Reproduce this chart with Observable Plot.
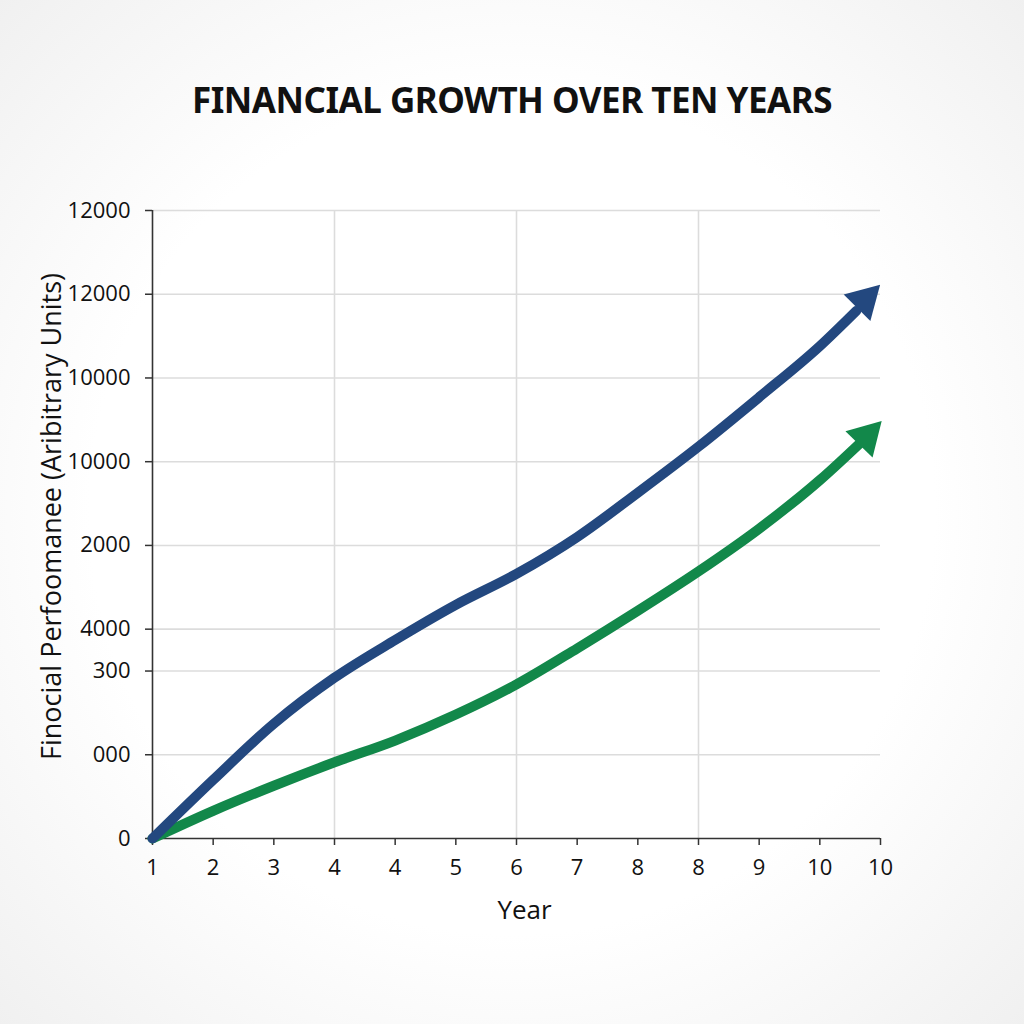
<!DOCTYPE html>
<html>
<head>
<meta charset="utf-8">
<script src="https://cdn.jsdelivr.net/npm/d3@7"></script>
<script src="https://cdn.jsdelivr.net/npm/@observablehq/plot@0.6"></script>
<style>
  html, body { margin: 0; padding: 0; }
  body {
    width: 1024px; height: 1024px; position: relative; overflow: hidden;
    background: radial-gradient(ellipse 75% 75% at 50% 50%, #ffffff 55%, #eeeeee 100%);
    font-family: "Open Sans", sans-serif;
  }
  #title {
    position: absolute; left: 0; width: 1024px; top: 80px; text-align: center;
    font-family: "Noto Sans", sans-serif; font-weight: 700; font-size: 35px;
    line-height: 40px; color: #111; letter-spacing: -0.5px;
  }
  #chart { position: absolute; left: 0; top: 150px; }
</style>
</head>
<body>
<div id="title">FINANCIAL GROWTH OVER TEN YEARS</div>
<div id="chart"></div>
<script>
// x positions (index) and their printed labels
const xTickValues = [0, 1, 2, 3, 4, 5, 6, 7, 8, 9, 10, 11, 12];
const xTickLabels = ["1", "2", "3", "4", "4", "5", "6", "7", "8", "8", "9", "10", "10"];
const xGridValues = [3, 6, 9];

// y positions (abstract units) and their printed labels
const yTickValues = [0, 1, 2, 2.5, 3.5, 4.5, 5.5, 6.5, 7.5];
const yTickLabels = ["0", "000", "300", "4000", "2000", "10000", "10000", "12000", "12000"];

// series (x index, value in axis units)
const blueX = [0, 1, 2, 3, 4, 5, 6, 7, 8, 9, 10, 11, 11.6];
const blueY = [0, 0.70, 1.37, 1.92, 2.37, 2.79, 3.16, 3.60, 4.13, 4.68, 5.27, 5.88, 6.30];
const greenX = [0, 1, 2, 3, 4, 5, 6, 7, 8, 9, 10, 11, 11.66];
const greenY = [0, 0.33, 0.63, 0.91, 1.17, 1.48, 1.84, 2.27, 2.72, 3.19, 3.70, 4.28, 4.72];

// arrowheads (x index, value, angle)
const headX = [11.74, 11.77];
const headY = [6.43, 4.80];
const headAngles = [45, 44];

const seriesColors = ["#23487f", "#12884a"];

const xLabel = "Year";
const yLabel = "Finocial Perfoomanee (Aribitrary Units)";

const blue = blueX.map((x, i) => ({x, y: blueY[i]}));
const green = greenX.map((x, i) => ({x, y: greenY[i]}));
const heads = headX.map((x, i) => ({x, y: headY[i], angle: headAngles[i], color: seriesColors[i]}));

const xFmt = new Map(xTickValues.map((v, i) => [v, xTickLabels[i]]));
const yFmt = new Map(yTickValues.map((v, i) => [v, yTickLabels[i]]));

const plot = Plot.plot({
  width: 1024,
  height: 874,
  marginTop: 60,
  marginBottom: 186,
  marginLeft: 152,
  marginRight: 144,
  style: {background: "transparent", fontFamily: "'Open Sans', sans-serif", fontSize: "22px", color: "#111", overflow: "visible"},
  x: {domain: [0, 12]},
  y: {domain: [0, 7.5]},
  marks: [
    Plot.gridY(yTickValues.filter(d => d > 0), {stroke: "#dcdcdc", strokeOpacity: 1, strokeWidth: 1.6}),
    Plot.gridX(xGridValues, {stroke: "#dcdcdc", strokeOpacity: 1, strokeWidth: 1.6}),
    Plot.ruleX([0], {y1: 0, y2: 7.5, stroke: "#333", strokeWidth: 1.6}),
    Plot.ruleY([0], {stroke: "#333", strokeWidth: 1.6}),
    Plot.axisY(yTickValues, {tickSize: 7, tickPadding: 15, fontSize: 22, tickFormat: d => yFmt.get(d), stroke: "#333", strokeWidth: 1.5, label: null, fill: "#111"}),
    Plot.axisX(xTickValues, {tickSize: 7, tickPadding: 14, fontSize: 22, tickFormat: d => xFmt.get(d), stroke: "#333", strokeWidth: 1.5, label: null, fill: "#111"}),
    Plot.line(green, {x: "x", y: "y", stroke: seriesColors[1], strokeWidth: 10, curve: "monotone-x", strokeLinecap: "round"}),
    Plot.line(blue, {x: "x", y: "y", stroke: seriesColors[0], strokeWidth: 10, curve: "monotone-x", strokeLinecap: "round"}),
    Plot.dot(heads, {x: "x", y: "y", fill: d => d.color, symbol: "triangle", r: 14, rotate: "angle", stroke: null}),
    Plot.text([yLabel], {frameAnchor: "left", textAnchor: "middle", text: d => d, rotate: -90, dx: -100, dy: -8, fontSize: 27, fill: "#111"}),
    Plot.text([xLabel], {frameAnchor: "bottom", text: d => d, dy: 80, dx: 8, fontSize: 26, fill: "#111"})
  ]
});
document.getElementById("chart").appendChild(plot);
</script>
</body>
</html>
